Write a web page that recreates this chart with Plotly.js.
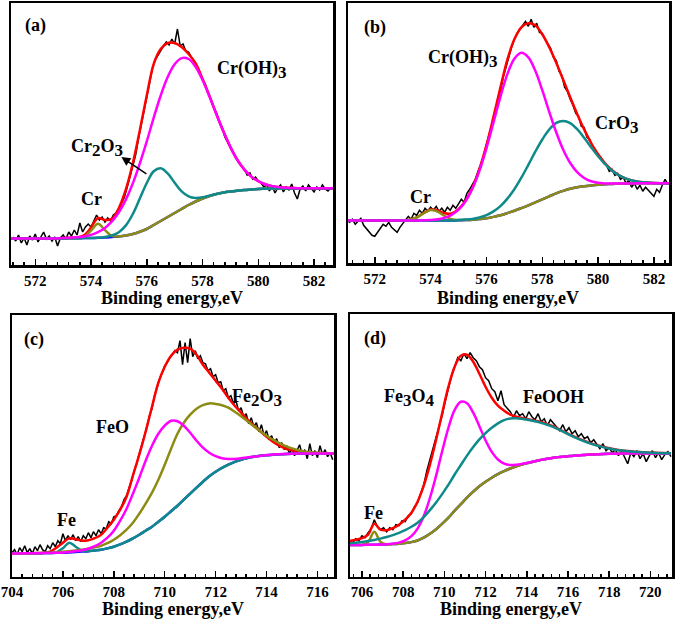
<!DOCTYPE html>
<html>
<head>
<meta charset="utf-8">
<script src="https://cdn.plot.ly/plotly-3.0.1.min.js"></script>
<style>
  html, body { margin: 0; padding: 0; background: #fff; }
  #plot { width: 675px; height: 619px; }
</style>
</head>
<body>
<div id="plot"></div>
<script>
// XPS fits, intensity in arbitrary units (0 = bottom of each frame)

// (a) Cr 2p, fit curves sampled from 571.0 eV every 0.25 eV
const aFitStart = 571.0, aFitStep = 0.25;
const aBlue = [26.5,26.5,26.5,26.5,26.5,26.5,26.5,26.6,26.6,26.7,26.8,26.9,27,27.2,27.5,28,28.5,29.5,31,33.3,36,40,44,48,52,56,60,63.5,66.5,69,71,72.5,73.5,74.3,75,75.5,76,76.2,76.4,76.5,76.6,76.6,76.7,76.7,76.7,76.7,76.7,76.7];
const aOlive = [26.5,26.5,26.5,26.5,26.5,26.5,26.5,26.6,26.6,26.7,26.8,28,34.4,41.2,34.9,29.1,28.5,29.5,31,33.3,36,40,44,48,52,56,60,63.5,66.5,69,71,72.5,73.5,74.3,75,75.5,76,76.2,76.4,76.5,76.6,76.6,76.7,76.7,76.7,76.7,76.7,76.7];
const aTeal = [26.5,26.5,26.5,26.5,26.5,26.5,26.5,26.6,26.6,26.7,26.8,26.9,27,27.2,28,29.6,32.8,39.6,51,66.4,82,93.8,96.8,91.6,82.3,73.7,68.7,67.1,67.7,69.4,71,72.5,73.5,74.3,75,75.5,76,76.2,76.4,76.5,76.6,76.6,76.7,76.7,76.7,76.7,76.7,76.7];
const aMagenta = [26.5,26.5,26.5,26.5,26.5,26.5,26.5,26.6,26.9,27.2,27.7,28.6,30.1,32.8,37.1,43.6,52.7,65.4,81.6,101.5,123.6,147.4,169.5,187.9,200.7,206.9,206,198.2,185,168.5,150.7,133.4,117.9,105.1,95.4,88.4,83.8,80.7,78.9,77.8,77.2,76.9,76.8,76.7,76.7,76.7,76.7,76.7];
const aRed = [26.5,26.5,26.5,26.5,26.5,26.5,26.5,26.6,26.9,27.2,27.7,29.7,37.5,47,45,46.3,57,75.5,101.6,134.6,169.6,201.2,216,222,222,218,211,201.8,186.2,168.9,150.7,133.4,117.9,105.1,95.4,88.4,83.8,80.7,78.9,77.8,77.2,76.9,76.8,76.7,76.7,76.7,76.7,76.7];
// measured spectrum, from 571.2 eV every 0.1 eV
const aDataStart = 571.2, aDataStep = 0.1;
const aData = [28,24,30,22,27,20,29,25,31,23, 28,33,26,29,24,28,19,27,30,26,
  33,29,35,30,42,33,38,41,38,45, 50,45,48,43,47,44,50,52,56,62,
  68,78,88,100,110,126,140,155,170,182, 196,205,210,214,219,223,220,226,221,236,
  219,221,214,213,208,203,198,193,185,181, 172,166,157,152,143,138,128,123,118,112,
  108,102,99,96,90,92,86,88,84,82, 78,80,74,79,72,77,80,73,78,75,
  81,72,66,76,79,74,80,77,73,78, 75,80,76,74,77];

// (b) Cr 2p
const bFitStart = 571.0, bFitStep = 0.25;
const bBlue = [42.7,42.7,42.7,42.7,42.7,42.7,42.7,42.7,42.7,42.7,42.7,42.7,42.7,42.7,42.7,42.8,43,43.2,43.5,44.2,45,46.4,48,50.2,52.5,55.2,58,61,64,67,70,72.4,74.5,76,77,77.8,78.5,79,79.3,79.6,79.8,79.9,80,80,80,80,80,80];
const bOlive = [42.7,42.7,42.7,42.7,42.7,42.7,42.7,42.7,42.7,43.5,45.8,50,53.2,51.7,47.3,44.2,43.3,43.2,43.5,44.2,45,46.4,48,50.2,52.5,55.2,58,61,64,67,70,72.4,74.5,76,77,77.8,78.5,79,79.3,79.6,79.8,79.9,80,80,80,80,80,80];
const bTeal = [42.7,42.7,42.7,42.7,42.7,42.7,42.7,42.7,42.7,42.7,42.7,42.7,42.7,42.7,42.7,42.8,43.2,43.7,44.3,45.8,48.1,51.9,57.2,64.7,74.1,85.6,98.4,111.6,123.8,133.8,140.4,142.4,140.2,134.1,125.6,116.1,107,99.1,92.6,87.9,84.7,82.6,81.4,80.7,80.3,80.1,80,80];
const bMagenta = [42.7,42.7,42.7,42.7,42.7,42.7,42.7,42.7,42.7,42.7,42.8,43,43.2,44,45.4,48.4,53.6,62.1,74.9,92.7,115,140.7,166.5,189.2,204.6,210.5,205.9,192.5,173.1,151.4,131,113.5,100.3,91.2,85.3,82,80.5,79.9,79.7,79.75,79.8,79.9,80,80,80,80,80,80];
const bRed = [42.7,42.7,42.7,42.7,42.7,42.7,42.7,42.7,42.7,43.5,45.9,50.3,53.7,52.9,50,49.8,54.1,62.5,75.7,94.3,118.1,146.2,175.7,203.7,224,236,240,238,229,216,200.5,183.5,166,149.3,133.9,120.3,109,100,93,88,84.7,82.7,81.4,80.7,80.3,80.1,80,80];
const bDataStart = 571.0, bDataStep = 0.1;
const bData = [43,41,44,39,42,45,38,35,31,28, 27,31,35,39,37,41,36,33,31,36,
  40,44,47,44,50,48,53,50,55,52, 56,53,57,52,55,51,56,53,58,55,
  59,64,61,70,74,79,84,92,99,108, 118,128,140,150,163,172,186,197,206,216,
  224,230,234,238,242,237,244,236,240,231, 230,224,219,215,206,203,192,188,176,172,
  164,158,150,147,137,136,126,124,117,114, 108,106,100,98,92,94,88,90,84,86,
  80,83,76,80,74,78,72,76,73,70, 67,74,71,78,84,79];

// (c) Fe 2p
const cFitStart = 704.0, cFitStep = 0.25;
const cBlue = [23.3,23.3,23.4,23.4,23.5,23.6,23.7,23.9,24,24.3,24.7,25.1,25.5,26.2,27,28.3,30,32.3,35,38.3,42,46,50,55,60,65.5,71,77,83,89,95,100.5,105,108.8,112,114.8,117,118.7,120,120.9,121.5,122,122.5,122.8,123,123.1,123.2,123.2,123.3,123.3,123.3,123.3];
const cTeal = [23.3,23.3,23.4,23.4,23.5,23.6,23.7,24.6,28.5,34,30,25.8,25.5,26.2,27,28.3,30,32.3,35,38.3,42,46,50,55,60,65.5,71,77,83,89,95,100.5,105,108.8,112,114.8,117,118.7,120,120.9,121.5,122,122.5,122.8,123,123.1,123.2,123.2,123.3,123.3,123.3,123.3];
const cMagenta = [23.3,23.3,23.4,23.4,23.5,23.6,23.8,24,24.3,24.8,25.5,26.5,28,30.5,34,39,46,56,68,83,99,116,131,143,151,156,155.5,151,144,136,129,124,120.5,118.5,117.7,117.8,118.5,119.3,120,120.7,121.6,122.1,122.5,122.8,123,123.1,123.2,123.2,123.3,123.3,123.3,123.3];
const cOlive = [23.3,23.3,23.4,23.5,23.6,23.8,24,24.4,24.9,25.5,26.2,27,28,29.3,31,33.5,37,41.5,47,54,63,73,84,97,112,128,143,154,162,168,171.5,173.3,172.8,171.5,169,165,160.5,155.5,150.5,145.5,141,137,133.5,130.5,128.3,126.5,125.2,124.4,123.9,123.6,123.4,123.3];
const cRed = [23.3,23.3,23.4,23.5,23.6,24,25,29,34,38.3,37.5,36,36.5,38.5,42,49,57,67,80,101,122,145,170,194,210,221,227,229,228,222,212,204,196,188,179,171,164,157,151,145.5,140,135,131,128,126.5,125.2,124.5,124,123.7,123.5,123.3,123.3];
const cDataStart = 704.0, cDataStep = 0.1;
const cData = [24,27,22,29,25,31,24,28,23,30, 26,32,27,25,31,28,34,30,36,33,
  43,36,41,37,42,36,40,35,41,38, 44,39,45,41,47,43,49,48,55,53,
  60,61,66,70,77,81,89,96,106,113, 123,131,141,150,161,168,181,189,198,204,
  211,214,219,222,226,224,236,212,234,214, 238,220,226,218,221,214,213,206,208,200,
  202,194,195,186,188,179,181,173,176,166, 169,160,163,153,159,150,154,145,152,141,
  146,137,141,134,138,129,134,127,131,123, 128,121,126,132,122,127,118,133,121,126,
  119,131,122,127,120,124,117];

// (d) Fe 2p
const dFitStart = 705.4, dFitStep = 0.3;
const dBlue = [31.7,31.7,31.8,31.9,32,32.1,32.3,32.6,33,33.6,34.6,36.2,39,43,47.5,53,59,66,72.5,79,85,90.5,95,99,102.6,105.6,108.2,110.5,112.4,114,115.5,116.8,118,119,119.7,120.3,120.8,121.3,121.7,122.1,122.4,122.7,122.9,123,123.1,123.2,123.3,123.3,123.3,123.3,123.3,123.3,123.3];
const dOlive = [31.7,31.7,31.8,34.6,45,34.8,32.3,32.6,33,33.6,34.6,36.2,39,43,47.5,53,59,66,72.5,79,85,90.5,95,99,102.6,105.6,108.2,110.5,112.4,114,115.5,116.8,118,119,119.7,120.3,120.8,121.3,121.7,122.1,122.4,122.7,122.9,123,123.1,123.2,123.3,123.3,123.3,123.3,123.3,123.3,123.3];
const dMagenta = [31.7,31.7,31.8,31.9,32,32.1,32.4,33,34.1,36.3,40.5,48.1,60.6,78.7,101.1,125.9,149,166.8,174.9,173.5,164,150.5,136.3,124.8,117.2,113.1,111.7,112,113,114.2,115.5,116.8,118,119,119.7,120.3,120.8,121.3,121.7,122.1,122.4,122.7,122.9,123,123.1,123.2,123.3,123.3,123.3,123.3,123.3,123.3,123.3];
const dTeal = [33.5,34,34.8,35.7,36.8,38.1,39.7,41.6,43.8,46.5,49.9,54,59.6,66.6,74.2,82.8,92,102.2,111.7,121.1,129.6,137.3,143.6,148.9,153.3,156.6,158.3,158.5,157.8,156.8,155.4,153.8,151.9,149.6,146.8,143.6,140.6,137.8,135.3,133.1,131.2,129.6,128.2,127,126.1,125.4,124.9,124.5,124.1,123.85,123.7,123.55,123.45];
const dRed = [36,37,38.5,42,53,47,46.5,48.5,52,57,64,75,91,112,137,164,190,210,221,222,215,203,190,179,171,166,162,160,158.6,157.3,156,154.6,152.6,150.2,147.2,144,141,138.3,135.8,133.6,131.6,130,128.5,127.3,126.3,125.6,125,124.6,124.2,124,123.8,123.6,123.5];
const dDataStart = 705.4, dDataStep = 0.15;
const dData = [36,34,38,36,41,39,44,48,57,50, 47,49,45,49,47,52,51,56,55,61,
  63,70,74,84,92,106,117,130,141,151, 162,176,188,201,210,219,216,223,218,224,
  219,216,210,207,199,196,188,185,176,186, 172,168,165,159,166,161,163,158,165,160,
  157,163,155,158,151,157,153,150,146,152, 145,149,143,146,140,143,138,140,134,137,
  132,128,133,126,129,124,127,121,126,119, 113,124,120,126,118,123,115,121,126,119,
  124,117,122,125,120];

// tick labels, every 2 eV
const crTicks = [572, 574, 576, 578, 580, 582];
const feTicksC = [704, 706, 708, 710, 712, 714, 716];
const feTicksD = [706, 708, 710, 712, 714, 716, 718, 720];

const RED = '#ff0000', MAGENTA = '#ff00ff', TEAL = '#0f8a8a', OLIVE = '#8c8c14', BLUE = '#1414ff';
const SERIF = 'Liberation Serif';

function dataTrace(xa, ya, x0, dx, y) {
  return { type: 'scatter', mode: 'lines', x0: x0, dx: dx, y: y, xaxis: xa, yaxis: ya,
    line: { color: '#000', width: 1.5 }, hoverinfo: 'skip' };
}
function fitTrace(xa, ya, x0, dx, y, color) {
  return { type: 'scatter', mode: 'lines', x0: x0, dx: dx, y: y, xaxis: xa, yaxis: ya,
    line: { color: color, width: 2.5, shape: 'spline', smoothing: 1 }, hoverinfo: 'skip' };
}

const data = [
  dataTrace('x', 'y', aDataStart, aDataStep, aData),
  fitTrace('x', 'y', aFitStart, aFitStep, aRed, RED),
  fitTrace('x', 'y', aFitStart, aFitStep, aBlue, BLUE),
  fitTrace('x', 'y', aFitStart, aFitStep, aOlive, OLIVE),
  fitTrace('x', 'y', aFitStart, aFitStep, aTeal, TEAL),
  fitTrace('x', 'y', aFitStart, aFitStep, aMagenta, MAGENTA),

  dataTrace('x2', 'y2', bDataStart, bDataStep, bData),
  fitTrace('x2', 'y2', bFitStart, bFitStep, bRed, RED),
  fitTrace('x2', 'y2', bFitStart, bFitStep, bBlue, BLUE),
  fitTrace('x2', 'y2', bFitStart, bFitStep, bOlive, OLIVE),
  fitTrace('x2', 'y2', bFitStart, bFitStep, bTeal, TEAL),
  fitTrace('x2', 'y2', bFitStart, bFitStep, bMagenta, MAGENTA),

  dataTrace('x3', 'y3', cDataStart, cDataStep, cData),
  fitTrace('x3', 'y3', cFitStart, cFitStep, cRed, RED),
  fitTrace('x3', 'y3', cFitStart, cFitStep, cBlue, BLUE),
  fitTrace('x3', 'y3', cFitStart, cFitStep, cTeal, TEAL),
  fitTrace('x3', 'y3', cFitStart, cFitStep, cOlive, OLIVE),
  fitTrace('x3', 'y3', cFitStart, cFitStep, cMagenta, MAGENTA),

  dataTrace('x4', 'y4', dDataStart, dDataStep, dData),
  fitTrace('x4', 'y4', dFitStart, dFitStep, dRed, RED),
  fitTrace('x4', 'y4', dFitStart, dFitStep, dBlue, BLUE),
  fitTrace('x4', 'y4', dFitStart, dFitStep, dOlive, OLIVE),
  fitTrace('x4', 'y4', dFitStart, dFitStep, dMagenta, MAGENTA),
  fitTrace('x4', 'y4', dFitStart, dFitStep, dTeal, TEAL)
];

const W = 675, H = 619;
function xAx(left, right, range, anchor, ticks) {
  return {
    domain: [left / W, right / W], range: range, anchor: anchor,
    showline: true, mirror: true, linecolor: '#000', linewidth: 2.5,
    showgrid: false, zeroline: false,
    ticks: 'inside', ticklen: 6, tickwidth: 1.5, tickcolor: '#000',
    tickmode: 'array', tickvals: ticks, ticktext: ticks.map(t => '<b>' + t + '</b>'),
    minor: { ticks: 'inside', ticklen: 3, tickwidth: 1.5, tickcolor: '#000', tick0: 0, dtick: 0.4, showgrid: false },
    tickfont: { family: SERIF, size: 15, color: '#000' }
  };
}
function yAx(top, bottom, range, anchor) {
  return {
    domain: [1 - bottom / H, 1 - top / H], range: range, anchor: anchor,
    showline: true, mirror: true, linecolor: '#000', linewidth: 2.5,
    showgrid: false, zeroline: false, ticks: '', showticklabels: false
  };
}

const labelFont = { family: SERIF, size: 18, color: '#000' };
function sub(s) { return '<sub><span style="font-size:17px">' + s + '</span></sub>'; }
function note(xr, yr, x, y, text) {
  return { xref: xr, yref: yr, x: x, y: y, text: '<b>' + text + '</b>', showarrow: false,
    font: labelFont, xanchor: 'center', yanchor: 'middle' };
}
function axisTitle(x, y) {
  return { xref: 'paper', yref: 'paper', x: x, y: y, text: '<b>Binding energy,eV</b>', showarrow: false,
    font: { family: SERIF, size: 18, color: '#000' }, xanchor: 'center', yanchor: 'middle' };
}

const layout = {
  width: W, height: H, autosize: false,
  margin: { l: 0, r: 0, t: 0, b: 0 },
  paper_bgcolor: '#fff', plot_bgcolor: '#fff',
  showlegend: false,
  xaxis: xAx(11, 333, [571.13, 582.68], 'y', crTicks),
  yaxis: yAx(3, 265, [0, 262], 'x'),
  xaxis2: xAx(348, 669, [571.04, 582.54], 'y2', crTicks),
  yaxis2: yAx(3.3, 263.3, [0, 260], 'x2'),
  xaxis3: xAx(12, 334, [704.0, 716.65], 'y3', feTicksC),
  yaxis3: yAx(315, 576.7, [0, 261.7], 'x3'),
  xaxis4: xAx(350, 672, [705.42, 721.05], 'y4', feTicksD),
  yaxis4: yAx(314, 576.7, [0, 262.7], 'x4'),
  annotations: [
    note('x', 'y', 572.0, 239, '(a)'),
    note('x', 'y', 579.76, 195, 'Cr(OH)' + sub('3')),
    note('x', 'y', 574.23, 117, 'Cr' + sub('2') + 'O' + sub('3')),
    note('x', 'y', 574.02, 66, 'Cr'),
    { xref: 'x', yref: 'y', x: 575.09, y: 108, axref: 'x', ayref: 'y', ax: 576.04, ay: 90,
      text: '', showarrow: true, arrowhead: 2, arrowsize: 1.2, arrowwidth: 1.5, arrowcolor: '#000' },

    note('x2', 'y2', 572.0, 236, '(b)'),
    note('x2', 'y2', 575.13, 204, 'Cr(OH)' + sub('3')),
    note('x2', 'y2', 580.66, 138, 'CrO' + sub('3')),
    note('x2', 'y2', 573.65, 66, 'Cr'),

    note('x3', 'y3', 704.87, 237.7, '(c)'),
    note('x3', 'y3', 713.63, 178.7, 'Fe' + sub('2') + 'O' + sub('3')),
    note('x3', 'y3', 707.96, 149.7, 'FeO'),
    note('x3', 'y3', 706.13, 56.7, 'Fe'),

    note('x4', 'y4', 706.63, 238.7, '(d)'),
    note('x4', 'y4', 708.33, 178.7, 'Fe' + sub('3') + 'O' + sub('4')),
    note('x4', 'y4', 715.29, 179.7, 'FeOOH'),
    note('x4', 'y4', 706.58, 63.7, 'Fe'),

    axisTitle(172 / W, 1 - 298 / H),
    axisTitle(508 / W, 1 - 298 / H),
    axisTitle(173 / W, 1 - 609 / H),
    axisTitle(511 / W, 1 - 609 / H)
  ]
};

Plotly.newPlot('plot', data, layout, { displayModeBar: false, staticPlot: true });
</script>
</body>
</html>
